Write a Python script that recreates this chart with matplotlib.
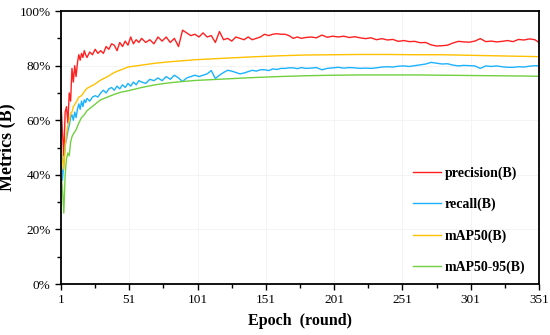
import numpy as np
import matplotlib
matplotlib.use('Agg')
import matplotlib.pyplot as plt
from matplotlib.ticker import MultipleLocator, FixedLocator, PercentFormatter

plt.rcParams['font.family'] = ['Liberation Serif', 'DejaVu Serif']

# epochs sampled for the noisy series (precision, recall)
ep_noisy = np.r_[np.arange(1, 21), np.arange(22, 61, 2), np.arange(63, 181, 3),
                 np.arange(184, 349, 4), [351]]

precision = [65.5, 56, 47, 63, 65, 59, 70, 67, 79, 74, 80, 76, 81, 84, 82, 84.5, 83, 85.5, 84, 83,
             85, 84, 86, 84.5, 85.5, 84.5, 87, 86, 88, 87.5, 85.5, 88.5, 87, 89, 87.5, 90.5, 88, 89.5, 88.5, 90,
             88.5, 89.5, 88, 90.5, 89, 90.5, 88.5, 90, 87, 93, 92, 91, 91.5, 90.5, 92, 90.5, 91, 88.5, 92.5, 89.5,
             90, 89, 90.5, 90, 89.5, 90.5, 89.5, 90, 90.5, 91.5, 91, 91.5, 91.7, 91.5, 91.5, 91, 90, 90.5, 90, 90.3,
             90.5, 90.2, 91.2, 90.4, 90.8, 90.5, 90.8, 90.3, 90.6, 90.2, 89.9, 90.2, 89.5, 89.9, 89.4, 89.6,
             88.9, 89.2, 88.8, 88.9, 88.4, 88.5, 87.6, 87.2, 87.3, 87.5, 88.3, 88.9, 88.7, 88.6, 89.0, 89.9,
             88.8, 89.0, 88.7, 88.9, 89.2, 88.8, 89.6, 89.4, 89.8, 89.5, 88.5]

recall = [45, 38, 44, 51, 53, 56, 58, 61, 62, 60, 63, 61, 64, 66, 64, 67, 65, 67.5, 66.5, 68,
          67, 68.5, 69, 68.5, 70, 71, 70, 71.5, 72, 71, 72.5, 71.5, 73, 72, 73.5, 72.5, 74, 73, 74.5, 74,
          73.5, 75, 74.5, 75.5, 74.5, 76, 75, 76.5, 75.5, 74.2, 75.5, 76, 76.5, 76, 76.5, 77, 78.2, 75.3, 76.5, 77.5,
          78.3, 78, 77.5, 77, 77.3, 77.8, 78.3, 78, 78.5, 78.5, 78.2, 78.8, 78.6, 79, 79, 79.2, 79.2, 78.9, 79.3, 79,
          79.1, 79.3, 78.5, 79.0, 79.2, 79.4, 79.1, 79.3, 79.2, 79.0, 79.1, 79.0, 79.2, 79.5, 79.6, 79.5,
          79.8, 79.9, 79.7, 80.0, 80.3, 80.6, 81.2, 80.9, 80.6, 80.7, 80.2, 79.9, 80.1, 80.0, 79.9, 79.0,
          79.9, 79.7, 79.9, 79.6, 79.4, 79.4, 79.6, 79.5, 79.8, 80.0, 79.9]

# epochs sampled for the smooth series (mAP50, mAP50-95)
ep_smooth = [1, 2, 3, 4, 5, 6, 7, 8, 9, 10, 12, 14, 16, 18, 20, 25, 30, 35, 40, 45, 50,
             60, 70, 80, 90, 100, 120, 140, 160, 180, 200, 220, 240, 260, 280, 300, 320, 340, 351]

map50 = [51.5, 46, 42, 50, 55, 58, 60, 62.5, 63, 65, 66.5, 68.5, 69, 70.5, 71.7,
         73, 74.7, 76, 77.5, 78.5, 79.5, 80.2, 80.9, 81.4, 81.8, 82.2,
         82.7, 83.2, 83.6, 83.9, 84.0, 84.1, 84.1, 84.0, 84.0, 83.8, 83.6, 83.4, 83.3]

map50_95 = [40, 35, 26, 40, 46, 48, 47, 52, 54, 55, 56.5, 59, 61, 62, 63.5,
            65.5, 67.5, 68.5, 69.5, 70.3, 70.8, 72, 73, 73.7, 74.2, 74.6,
            75.1, 75.6, 76, 76.3, 76.5, 76.6, 76.6, 76.6, 76.5, 76.4, 76.3, 76.2, 76.1]

xticks = [1, 51, 101, 151, 201, 251, 301, 351]

fig = plt.figure(figsize=(5.5, 3.35), dpi=100)
ax = fig.add_axes([0.111, 0.152, 0.869, 0.815])

ax.plot(ep_noisy, precision, color='#ff2020', lw=1.0, label='precision(B)')
ax.plot(ep_noisy, recall, color='#1ab2ff', lw=1.0, label='recall(B)')
ax.plot(ep_smooth, map50, color='#ffc000', lw=1.0, label='mAP50(B)')
ax.plot(ep_smooth, map50_95, color='#70d040', lw=1.0, label='mAP50-95(B)')

ax.set_xlim(1, 351)
ax.set_ylim(0, 100)
ax.xaxis.set_major_locator(FixedLocator(xticks))
ax.xaxis.set_minor_locator(FixedLocator([26, 76, 126, 176, 226, 276, 326]))
ax.yaxis.set_major_locator(MultipleLocator(20))
ax.yaxis.set_minor_locator(MultipleLocator(10))
ax.yaxis.set_major_formatter(PercentFormatter(decimals=0))
ax.grid(True, which='major', color='#f2f2f2', lw=0.6)
ax.set_axisbelow(True)

for s in ax.spines.values():
    s.set_linewidth(1.3)
ax.tick_params(which='both', direction='out', width=1.0, labelsize=9.5)
ax.tick_params(which='major', length=4)
ax.tick_params(which='minor', length=3)

ax.set_xlabel('Epoch  (round)', fontsize=11.5, fontweight='bold', labelpad=5)
ax.set_ylabel('Metrics (B)', fontsize=13, fontweight='bold')
ax.yaxis.set_label_coords(-0.094, 0.5)

leg = ax.legend(loc='lower right', frameon=False, labelspacing=1.3, handlelength=2.0,
                handletextpad=0.3, prop={'weight': 'bold', 'size': 10},
                bbox_to_anchor=(0.998, -0.01))

fig.savefig('out.png', dpi=100)
